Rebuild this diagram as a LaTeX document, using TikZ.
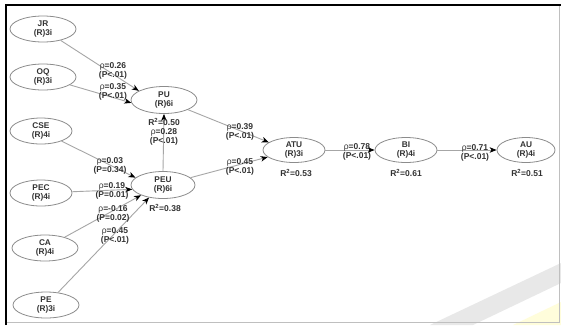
\documentclass[tikz,border=0pt]{standalone}
\usepackage{fontspec}
\setmainfont{Liberation Sans}
\usetikzlibrary{shapes.geometric,arrows.meta}
\newcommand{\myrho}{{\mdseries ρ}}
\begin{document}
\begin{tikzpicture}[x=1pt,y=-1pt,
  lv/.style={ellipse, draw=black!45, line width=0.8pt, fill=white, inner sep=0pt,
    minimum width=#1, minimum height=26pt, align=center,
    font=\fontsize{8.3}{9.5}\selectfont\bfseries, text=black!80},
  lv/.default=66pt,
  conn/.style={draw=black!35, line width=0.9pt,
    -{Stealth[black,length=7pt,width=5.5pt,inset=2pt]}},
  lab/.style={font=\fontsize{8.5}{9.3}\selectfont\bfseries, text=black!80,
    align=center, inner sep=0pt}
]
\useasboundingbox (0,0) rectangle (561,325);
\fill[white] (0,0) rectangle (561,325);
% faint watermark in lower right corner
\fill[black!9] (430,325) -- (473,325) -- (561,283) -- (561,263) -- cycle;
\fill[yellow!14] (513,325) -- (561,302) -- (561,325) -- cycle;
% frame
\draw[black!25, line width=0.8pt] (559,5) -- (559,322) -- (6,322);
\draw[black, line width=1.4pt] (6,325) -- (6,5) -- (561,5);

% latent variables
\node[lv] (JR)  at (43,29)  {JR\\(R)3i};
\node[lv] (OQ)  at (43,77)  {OQ\\(R)3i};
\node[lv=62pt] (CSE) at (41,131) {CSE\\(R)4i};
\node[lv=62pt] (PEC) at (41,193) {PEC\\(R)4i};
\node[lv] (CA)  at (45,248) {CA\\(R)4i};
\node[lv] (PE)  at (46,305) {PE\\(R)3i};
\node[lv=66pt, minimum height=27pt] (PU)  at (164,100) {PU\\(R)6i};
\node[lv=64pt, minimum height=27pt] (PEU) at (163,185) {PEU\\(R)6i};
\node[lv=62pt, minimum height=25pt] (ATU) at (294,150) {ATU\\(R)3i};
\node[lv=62pt, minimum height=25pt] (BI)  at (406,150) {BI\\(R)4i};
\node[lv=58pt, minimum height=25pt] (AU)  at (526,150) {AU\\(R)4i};

% paths
\draw[conn] (JR) -- (PU.160);
\draw[conn] (OQ) -- (PU.185);
\draw[conn] (PEU.north) -- (PU.south);
\draw[conn] (CSE) -- (PEU.165);
\draw[conn] (PEC) -- (PEU.188);
\draw[conn] (CA) -- (PEU.205);
\draw[conn] (PE) -- (PEU.222);
\draw[conn] (PU) -- (ATU.163);
\draw[conn] (PEU) -- (ATU.195);
\draw[conn] (ATU) -- (BI);
\draw[conn] (BI) -- (AU);

% labels
\node[lab] (l1)  at (113,71)  {\myrho=0.26\\(P<.01)};
\node[lab] (l2)  at (113,92)  {\myrho=0.35\\(P<.01)};
\node[lab] (l3)  at (164,122) {R\textsuperscript{2}=0.50};
\node[lab] (l4)  at (164,137) {\myrho=0.28\\(P<.01)};
\node[lab] (l5)  at (110,166) {\myrho=0.03\\(P=0.34)};
\node[lab] (l6)  at (112,191) {\myrho=0.19\\(P=0.01)};
\node[lab] (l7)  at (113,214) {\myrho=-0.16\\(P=0.02)};
\node[lab] (l8)  at (115,236) {\myrho=0.45\\(P<.01)};
\node[lab] (l9)  at (165,208) {R\textsuperscript{2}=0.38};
\node[lab] (l10) at (240,132) {\myrho=0.39\\(P<.01)};
\node[lab] (l11) at (240,167) {\myrho=0.45\\(P<.01)};
\node[lab] (l12) at (296,173) {R\textsuperscript{2}=0.53};
\node[lab] (l13) at (357,152) {\myrho=0.78\\(P<.01)};
\node[lab] (l14) at (406,173) {R\textsuperscript{2}=0.61};
\node[lab] (l15) at (475,153) {\myrho=0.71\\(P<.01)};
\node[lab] (l16) at (527,173) {R\textsuperscript{2}=0.51};
\end{tikzpicture}
\end{document}
